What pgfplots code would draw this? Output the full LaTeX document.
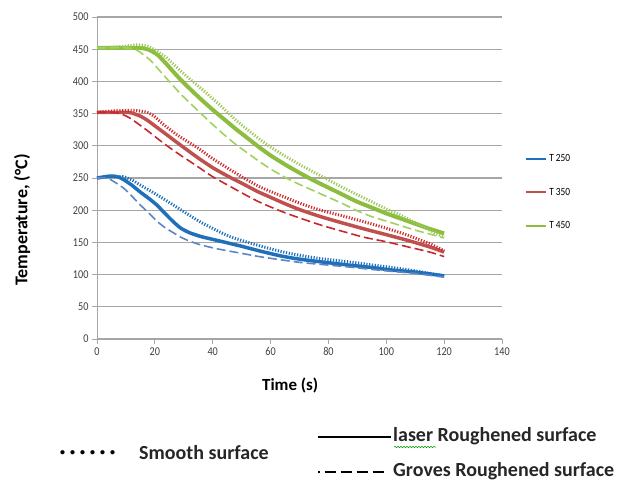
\documentclass[border=0pt]{standalone}
\usepackage{pgfplots}
\pgfplotsset{compat=1.18}
\usepackage{fontspec}
\setmainfont{Carlito}
\newfontfamily\tickfont[FakeStretch=0.85]{Carlito}
\usetikzlibrary{decorations.pathmorphing}
\definecolor{cBlue}{HTML}{1F6FBA}
\definecolor{cBlueD}{HTML}{5A86C4}
\definecolor{cRed}{HTML}{C0504D}
\definecolor{cRedT}{HTML}{D02C2C}
\definecolor{cRedD}{HTML}{C8282D}
\definecolor{cGreen}{HTML}{8CBD3F}
\definecolor{cGreenT}{HTML}{9CC95A}
\definecolor{cGreenD}{HTML}{9FD260}
\definecolor{gridc}{HTML}{A6A6A6}
\begin{document}
\begin{tikzpicture}[x=1pt,y=1pt]
\path[use as bounding box] (0pt,0pt) rectangle (632pt,488pt);
\begin{axis}[
  at={(97pt,149pt)}, anchor=south west,
  scale only axis, width=405pt, height=322pt,
  xmin=0, xmax=140, ymin=0, ymax=500,
  xtick distance=20, ytick distance=50,
  axis x line*=bottom, axis y line*=left,
  axis line style={draw=gridc, line width=0.8pt, -},
  ymajorgrids, grid style={draw=gridc, line width=1.2pt},
  tick align=outside, major tick length=5pt,
  tick style={draw=gridc, line width=0.8pt},
  /pgf/number format/assume math mode=true,
  ticklabel style={font=\tickfont\fontsize{12}{13}\selectfont, text=black!75},
  xlabel={\textbf{Time (s)}},
  xlabel style={font=\fontsize{17}{19}\selectfont, at={(axis description cs:0.477,-0.143)}, anchor=center},
  ylabel={\textbf{Temperature, (°C)}},
  ylabel style={font=\fontsize{18}{20}\selectfont, at={(axis description cs:-0.185,0.37)}, anchor=center},
  legend style={at={(axis description cs:1.057,0.58)}, anchor=north west, draw=none, fill=none,
    font=\tickfont\fontsize{11}{11}\selectfont, row sep=21pt, inner sep=0pt},
  legend cell align=left,
  legend image code/.code={\draw[#1,line width=2pt,solid] (0pt,0pt) -- (20pt,0pt);},
  clip=false,
]
% ---------- T 250 ----------
\addplot[cBlue, line width=3.5pt, smooth, tension=0.4] coordinates {
(0,250)(4.5,253)(7,252)(9,248)(12,239)(15,228)(18,218)(20.7,208)(23.5,195)(26.4,182)(29,172)(32,165)(36,159)(41.6,153)(50,144)(56,137)(63.5,129)(70,124)(77,120)(86.6,115)(95,111)(102,107)(109.6,104)(115,101)(120,98)};
\addlegendentry{T 250}
\addplot[cRed, line width=3.5pt, smooth, tension=0.4] coordinates {
(0,352)(5,352)(10,352)(12,351)(15,346)(17.3,340)(20,331)(23,321)(28,304)(34.7,282)(40,266)(46,251)(50,242)(55.5,229)(60,220)(65,210)(70,201)(77.3,190)(85,180)(92.3,171)(100,162)(107.5,153)(115,143)(120,135)};
\addlegendentry{T 350}
\addplot[cGreen, line width=4pt, smooth, tension=0.4] coordinates {
(0,452)(5,452)(10,452)(15,452)(18,449)(21,441)(24,427)(28,407)(32,389)(36,372)(40,356)(44,341)(48,326)(52,312)(56,298)(60,285)(65,271)(70,258)(75,246)(80,235)(85,224)(90,213)(95,204)(100,195)(105,187)(110,179)(115,171)(120,164)};
\addlegendentry{T 450}
% ---------- dotted (smooth surface) ----------
\addplot[forget plot, cBlue, line width=3pt, dash pattern=on 1.2pt off 1.6pt, smooth, tension=0.4] coordinates {
(0,250)(5,252)(9,252)(12,247)(15,239)(20.7,224)(26.4,208)(32,192)(36,181)(41.6,168)(46,159)(50,153)(56,145)(63.5,136)(70,130)(77,125)(86.6,120)(95,115)(102,111)(109.6,106)(115,102)(120,98)};
\addplot[forget plot, cRedT, line width=3pt, dash pattern=on 1.2pt off 1.6pt, smooth, tension=0.4] coordinates {
(0,352)(5,354)(10,355)(13,355)(17.3,352)(20,345)(23,333)(28,316)(34.7,297)(40,280)(46,263)(50,252)(55.5,238)(60,229)(65,220)(70,211)(77.3,200)(85,191)(92.3,182)(100,172)(107.5,161)(115,148)(120,137)};
\addplot[forget plot, cGreenT, line width=3pt, dash pattern=on 1.2pt off 1.6pt, smooth, tension=0.4] coordinates {
(0,452)(5,453)(10,455)(14,457)(17,455)(20,449)(24,437)(28,420)(32,404)(36,389)(40,373)(44,357)(48,340)(52,325)(56,311)(60,298)(65,284)(70,271)(75,259)(80,247)(85,235)(90,224)(95,213)(100,202)(105,192)(110,181)(115,169)(120,158)};
% ---------- dashed (groves) ----------
\addplot[forget plot, cBlueD, line width=1.6pt, dash pattern=on 9pt off 4pt, smooth, tension=0.4] coordinates {
(0,250)(3,250)(4.5,248)(9,235)(12,222)(15,208)(18,195)(20.7,183)(23.5,173)(26.4,165)(29,158)(32,152)(36,146)(41.6,140)(50,133)(56,128)(63.5,123)(70,119)(77,116)(86.6,112)(95,108)(102,105)(109.6,102)(115,99)(120,96)};
\addplot[forget plot, cRedD, line width=1.6pt, dash pattern=on 9pt off 4pt, smooth, tension=0.4] coordinates {
(0,352)(5,352)(8,350)(11.4,343)(17.3,324)(23,304)(28,288)(34.7,268)(40,252)(46,237)(50,227)(55.5,214)(60,205)(65,196)(70,188)(77.3,177)(85,167)(92.3,158)(100,151)(107.5,143)(115,135)(120,128)};
\addplot[forget plot, cGreenD, line width=1.6pt, dash pattern=on 9pt off 4pt, smooth, tension=0.4] coordinates {
(0,452)(5,452)(10,452)(13,450)(15,445)(18.4,433)(22,415)(26,395)(29,380)(32,367)(36,350)(40,333)(44,317)(48,302)(52,289)(56,276)(60,264)(65,251)(70,240)(75,230)(80,220)(85,210)(90,199)(95,190)(100,183)(105,176)(110,169)(115,163)(120,157)};
\end{axis}
% ---------- bottom legend ----------
\node[anchor=west, inner sep=0pt] at (60pt,35pt) {\fontsize{10}{10}\selectfont\textbf{•\hspace{5pt}•\hspace{5pt}•\hspace{5pt}•\hspace{5pt}•\hspace{5pt}•}};
\node[anchor=west, inner sep=0pt, text=black!85] at (139pt,35pt) {\fontsize{20}{20}\selectfont\textbf{Smooth surface}};
\node[anchor=west, inner sep=0pt] at (318pt,51pt) {\rule{73pt}{2.6pt}};
\node[anchor=west, inner sep=0pt, text=black!85] at (393pt,52pt) {\fontsize{20}{20}\selectfont\textbf{laser Roughened surface}};
\draw[green!60!black, line width=0.5pt, decorate, decoration={snake, amplitude=0.8pt, segment length=3pt}] (394pt,41pt) -- (436pt,41pt);
\node[anchor=west, inner sep=0pt] at (318pt,16pt) {\rule{1.5pt}{2pt}\hspace{5pt}\rule{11pt}{2.6pt}\hspace{5pt}\rule{11pt}{2.6pt}\hspace{5pt}\rule{11pt}{2.6pt}\hspace{5pt}\rule{11pt}{2.6pt}};
\node[anchor=west, inner sep=0pt, text=black!85] at (393pt,17pt) {\fontsize{20}{20}\selectfont\textbf{Groves Roughened surface}};
\end{tikzpicture}
\end{document}
